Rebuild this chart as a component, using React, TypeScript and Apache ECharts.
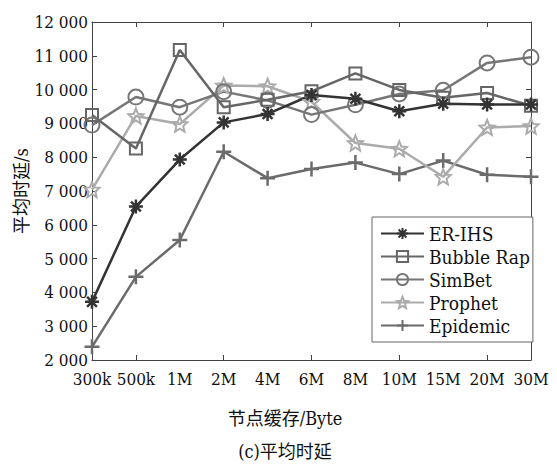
import React, { useEffect, useRef } from "react";
import * as echarts from "echarts";

const categories = ["300k", "500k", "1M", "2M", "4M", "6M", "8M", "10M", "15M", "20M", "30M"];
const erIhs = [3720, 6540, 7930, 9030, 9280, 9840, 9730, 9360, 9580, 9560, 9560];
const bubbleRap = [9250, 8260, 11170, 9480, 9700, 9950, 10480, 9990, 9760, 9900, 9520];
const simBet = [8950, 9780, 9480, 9940, 9680, 9260, 9550, 9870, 9980, 10790, 10960];
const prophet = [7040, 9220, 8980, 10120, 10100, 9640, 8420, 8250, 7420, 8880, 8920];
const epidemic = [2390, 4460, 5550, 8160, 7380, 7650, 7840, 7500, 7900, 7480, 7420];
const seriesNames = ["ER-IHS", "Bubble Rap", "SimBet", "Prophet", "Epidemic"];

const FONT = '"DejaVu Serif Condensed", "DejaVu Serif", "Noto Sans CJK SC", serif';

const SYM_ASTERISK = "path://M0,-1L0,1M-1,0L1,0M-0.7,-0.7L0.7,0.7M-0.7,0.7L0.7,-0.7";
const SYM_SQUARE = "path://M-1,-1L1,-1L1,1L-1,1Z";
const SYM_CIRCLE = "path://M1,0A1,1,0,1,1,-1,0A1,1,0,1,1,1,0Z";
const SYM_STAR =
  "path://M0,-1L0.265,-0.364L0.951,-0.309L0.428,0.139L0.588,0.809L0,0.45L-0.588,0.809L-0.428,0.139L-0.951,-0.309L-0.265,-0.364Z";
const SYM_PLUS = "path://M0,-1L0,1M-1,0L1,0";

const fmt = (v: number) => String(v).replace(/\B(?=(\d{3})+(?!\d))/g, " ");

export default function App() {
  const ref = useRef<HTMLDivElement>(null);
  useEffect(() => {
    if (!ref.current) return;
    const chart = echarts.init(ref.current, undefined, { renderer: "svg" });
    const mk = (name: string, data: number[], color: string, symbol: string, size: number, bw = 2) => ({
      name,
      type: "line",
      data,
      symbol,
      symbolSize: size,
      lineStyle: { color, width: 2.5 },
      itemStyle: { color: "rgba(0,0,0,0)", borderColor: color, borderWidth: bw },
      emphasis: { disabled: true },
    });
    const axisLine = { show: true, lineStyle: { color: "#444", width: 1 } };
    const tickStyle = { show: true, inside: true, length: 5, lineStyle: { color: "#444", width: 1 } };
    const txt = { fontFamily: FONT, fontSize: 17, color: "#111" };
    const option: any = {
      animation: false,
      backgroundColor: "#fff",
      textStyle: { fontFamily: FONT },
      grid: { left: 92, right: 26, top: 22, bottom: 104, containLabel: false, outerBoundsMode: "none" },
      legend: {
        orient: "vertical",
        left: 372,
        top: 217,
        data: seriesNames,
        itemWidth: 43,
        itemHeight: 14,
        itemGap: 4,
        padding: [7, 3, 7, 8],
        borderColor: "#666",
        borderWidth: 1,
        backgroundColor: "#fff",
        textStyle: { ...txt, fontSize: 19 },
      },
      xAxis: [
        {
          type: "category",
          data: categories,
          boundaryGap: false,
          position: "bottom",
          axisLine,
          axisTick: { ...tickStyle, interval: (i: number) => i % 2 === 1 },
          axisLabel: { ...txt, interval: 0, margin: 10 },
          splitLine: { show: false },
        },
        {
          type: "category",
          data: categories,
          boundaryGap: false,
          position: "top",
          axisLine,
          axisTick: { ...tickStyle, interval: (i: number) => i % 2 === 1 },
          axisLabel: { show: false },
          splitLine: { show: false },
        },
      ],
      yAxis: [
        {
          type: "value",
          min: 2000,
          max: 12000,
          interval: 1000,
          position: "left",
          name: "平均时延/s",
          nameLocation: "middle",
          nameGap: 62,
          nameMoveOverlap: false,
          nameTextStyle: { ...txt, fontSize: 18 },
          axisLine,
          axisTick: tickStyle,
          axisLabel: { ...txt, margin: 4, formatter: fmt },
          splitLine: { show: false },
        },
        {
          type: "value",
          min: 2000,
          max: 12000,
          interval: 2000,
          position: "right",
          axisLine,
          axisTick: tickStyle,
          axisLabel: { show: false },
          splitLine: { show: false },
        },
      ],
      graphic: [
        {
          type: "text",
          style: {
            text: "节点缓存/Byte",
            x: 285,
            y: 418,
            textAlign: "center",
            textVerticalAlign: "middle",
            fontFamily: FONT,
            fontSize: 18,
            fill: "#111",
          },
        },
        {
          type: "text",
          style: {
            text: "(c)平均时延",
            x: 285,
            y: 451,
            textAlign: "center",
            textVerticalAlign: "middle",
            fontFamily: FONT,
            fontSize: 18,
            fill: "#111",
          },
        },
      ],
      series: [
        mk("Epidemic", epidemic, "#6b6b6b", SYM_PLUS, 15, 2.5),
        mk("Prophet", prophet, "#ababab", SYM_STAR, 15),
        mk("SimBet", simBet, "#767676", SYM_CIRCLE, 15),
        mk("Bubble Rap", bubbleRap, "#666666", SYM_SQUARE, 12),
        mk("ER-IHS", erIhs, "#333333", SYM_ASTERISK, 14, 2.5),
      ],
    };
    chart.setOption(option);
    return () => chart.dispose();
  }, []);
  return (
    <div
      ref={ref}
      style={{ position: "absolute", left: 0, top: 0, width: 557, height: 464 }}
    />
  );
}
